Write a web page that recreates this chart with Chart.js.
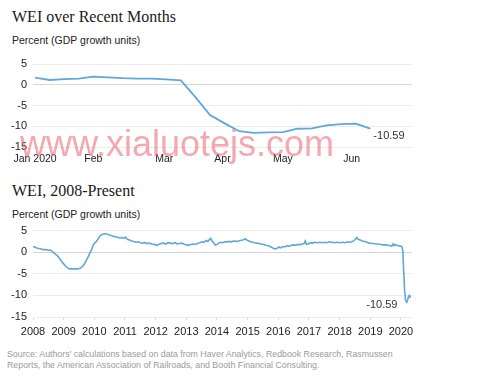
<!DOCTYPE html>
<html>
<head>
<meta charset="utf-8">
<script src="https://cdn.jsdelivr.net/npm/chart.js@4.4.1/dist/chart.umd.min.js"></script>
<style>
  html, body { margin: 0; padding: 0; background: #fff; }
  body { width: 480px; height: 380px; position: relative; overflow: hidden; font-family: "Liberation Sans", Arial, sans-serif; }
  .title { position: absolute; left: 12px; font-family: "Liberation Serif", Georgia, serif; font-size: 16px; line-height: 16px; color: #1a1a1a; white-space: nowrap; }
  .sub { position: absolute; left: 12px; font-size: 10.5px; line-height: 10.5px; color: #222; white-space: nowrap; }
  canvas { position: absolute; left: 0; }
  .source { position: absolute; left: 7px; top: 349px; font-size: 8.8px; line-height: 11px; color: #9a9a9a; white-space: nowrap; }
  .mark { position: absolute; left: 20px; top: 126px; font-size: 36px; line-height: 36px; color: rgba(236, 110, 122, 0.6); white-space: nowrap; pointer-events: none; z-index: 5; }
</style>
</head>
<body>
<div class="title" style="top:9px">WEI over Recent Months</div>
<div class="sub" style="top:35px">Percent (GDP growth units)</div>
<canvas id="recentChart" width="480" height="125" style="top:50px"></canvas>

<div class="title" style="top:183px">WEI, 2008-Present</div>
<div class="sub" style="top:209px">Percent (GDP growth units)</div>
<canvas id="longChart" width="480" height="130" style="top:218px"></canvas>

<div class="source">Source: Authors' calculations based on data from Haver Analytics, Redbook Research, Rasmussen<br>Reports, the American Association of Railroads, and Booth Financial Consulting.</div>
<div class="mark">www.xialuotejs.com</div>

<script>
// Recent months: weekly readings, x = day of 2020 (0 = Jan 1)
const recentDays = [3, 10, 17, 24, 31, 38, 45, 52, 59, 66, 73, 80, 87, 94, 101, 108, 115, 122, 129, 136, 143, 150, 157, 164];
const recentValues = [1.7, 1.15, 1.35, 1.5, 1.95, 1.8, 1.6, 1.5, 1.5, 1.3, 1.05, -3.0, -7.3, -9.3, -11.2, -11.6, -11.5, -11.4, -10.6, -10.5, -9.8, -9.5, -9.35, -10.59];
const monthTickDays = [3, 31, 65, 93, 122, 155];
const monthLabels = ['Jan 2020', 'Feb', 'Mar', 'Apr', 'May', 'Jun'];

// 2008 to present, x = decimal year
const longYears = [
  2008.00, 2008.05, 2008.10, 2008.15, 2008.24, 2008.32, 2008.41, 2008.50, 2008.57, 2008.62,
  2008.68, 2008.74, 2008.79, 2008.85, 2008.90, 2008.95, 2009.00, 2009.06, 2009.11, 2009.16,
  2009.20, 2009.26, 2009.33, 2009.40, 2009.45, 2009.51, 2009.56, 2009.60, 2009.66, 2009.71,
  2009.76, 2009.82, 2009.86, 2009.90, 2009.94, 2009.98, 2010.03, 2010.09, 2010.14, 2010.20,
  2010.25, 2010.31, 2010.37, 2010.44, 2010.50, 2010.58, 2010.66, 2010.74, 2010.82, 2010.90,
  2010.96, 2011.02, 2011.07, 2011.15, 2011.22, 2011.28, 2011.36, 2011.44, 2011.50, 2011.58,
  2011.66, 2011.72, 2011.80, 2011.88, 2011.96, 2012.05, 2012.10, 2012.16, 2012.26, 2012.34,
  2012.40, 2012.48, 2012.56, 2012.64, 2012.70, 2012.78, 2012.86, 2012.94, 2013.02, 2013.07,
  2013.14, 2013.22, 2013.29, 2013.36, 2013.44, 2013.51, 2013.58, 2013.64, 2013.70, 2013.75,
  2013.80, 2013.84, 2013.89, 2013.95, 2014.00, 2014.06, 2014.11, 2014.18, 2014.26, 2014.33,
  2014.40, 2014.48, 2014.54, 2014.62, 2014.70, 2014.76, 2014.84, 2014.92, 2015.00, 2015.08,
  2015.16, 2015.24, 2015.30, 2015.38, 2015.45, 2015.52, 2015.60, 2015.68, 2015.76, 2015.84,
  2015.90, 2015.96, 2016.02, 2016.08, 2016.14, 2016.20, 2016.28, 2016.36, 2016.44, 2016.50,
  2016.58, 2016.64, 2016.71, 2016.78, 2016.84, 2016.88, 2016.92, 2016.98, 2017.05, 2017.12,
  2017.20, 2017.28, 2017.36, 2017.44, 2017.52, 2017.58, 2017.66, 2017.74, 2017.82, 2017.90,
  2018.02, 2018.10, 2018.18, 2018.26, 2018.34, 2018.40, 2018.46, 2018.51, 2018.56, 2018.60,
  2018.67, 2018.74, 2018.82, 2018.89, 2018.96, 2019.04, 2019.10, 2019.18, 2019.26, 2019.34,
  2019.43, 2019.50, 2019.58, 2019.66, 2019.70, 2019.74, 2019.78, 2019.81, 2019.86, 2019.92,
  2019.97, 2020.03, 2020.06, 2020.09, 2020.12, 2020.15, 2020.19, 2020.22, 2020.25, 2020.28,
  2020.31
];
const longValues = [
  1.2, 1.3, 1.0, 0.9, 0.8, 0.6, 0.6, 0.45, 0.5, 0.2,
  -0.15, -0.5, -0.8, -1.3, -1.8, -2.3, -2.7, -3.2, -3.5, -3.75,
  -3.9, -3.8, -3.9, -3.8, -3.9, -3.8, -3.6, -3.4, -2.9, -2.3,
  -1.6, -0.8, -0.1, 0.4, 1.2, 1.9, 2.2, 2.7, 3.3, 3.85,
  4.1, 4.2, 4.3, 4.1, 4.0, 3.8, 3.6, 3.5, 3.3, 3.4,
  3.2, 3.5, 3.0, 2.8, 2.6, 2.5, 2.3, 2.4, 2.2, 2.1,
  2.2, 2.0, 2.1, 1.9, 1.8, 1.6, 1.8, 2.0, 2.1, 1.9,
  2.2, 2.1, 2.0, 2.2, 1.9, 2.0, 2.1, 1.8, 1.7, 1.6,
  1.8, 1.9, 1.8, 2.0, 2.2, 2.4, 2.3, 2.7, 2.5, 2.9,
  3.2, 2.6, 2.2, 1.6, 1.8, 2.1, 2.3, 2.2, 2.4, 2.4,
  2.5, 2.4, 2.6, 2.5, 2.6, 2.7, 2.8, 3.1, 2.7, 2.5,
  2.3, 2.2, 2.1, 2.0, 1.9, 1.8, 1.6, 1.5, 1.2, 0.9,
  0.75, 0.9, 1.2, 1.0, 1.3, 1.2, 1.5, 1.4, 1.6, 1.7,
  1.6, 1.8, 1.75, 1.9, 2.0, 2.6, 1.8, 1.9, 2.2, 2.1,
  2.3, 2.2, 2.3, 2.2, 2.3, 2.2, 2.4, 2.3, 2.2, 2.3,
  2.2, 2.3, 2.2, 2.4, 2.3, 2.4, 2.6, 3.0, 3.4, 3.0,
  2.8, 2.6, 2.5, 2.3, 2.1, 2.0, 2.0, 1.9, 1.9, 1.8,
  1.7, 1.7, 1.6, 1.5, 1.4, 1.9, 1.5, 1.8, 1.6, 1.5,
  1.4, 1.3, 0.4, -4.5, -8.9, -11.2, -11.6, -11.0, -10.2, -10.0,
  -10.59
];
const yearTicks = [2008, 2009, 2010, 2011, 2012, 2013, 2014, 2015, 2016, 2017, 2018, 2019, 2020];

const lineColor = '#5fa8da';
const tickFont = { family: '"Liberation Sans", Arial, sans-serif', size: 11 };

// writes the last value next to the end of the line
const endLabel = {
  id: 'endLabel',
  afterDatasetsDraw(chart, args, opts) {
    const meta = chart.getDatasetMeta(0);
    const last = meta.data[meta.data.length - 1];
    const values = chart.data.datasets[0].data;
    const v = values[values.length - 1].y;
    const ctx = chart.ctx;
    ctx.save();
    ctx.font = '11px "Liberation Sans", Arial, sans-serif';
    ctx.fillStyle = '#333';
    ctx.textAlign = opts.align;
    ctx.textBaseline = 'middle';
    ctx.fillText(v.toFixed(2), last.x + opts.dx, last.y + opts.dy);
    ctx.restore();
  }
};

function yAxis() {
  return {
    min: -15,
    max: 5,
    afterFit: axis => { axis.width = 33; },
    border: { display: false },
    grid: {
      drawTicks: false,
      color: ctx => (ctx.tick && ctx.tick.value === 0) ? '#d6d6d6' : '#ececec'
    },
    ticks: { stepSize: 5, padding: 6, color: '#222', font: tickFont }
  };
}

new Chart(document.getElementById('recentChart'), {
  type: 'line',
  data: {
    datasets: [{
      data: recentDays.map((d, i) => ({ x: d, y: recentValues[i] })),
      borderColor: lineColor,
      borderWidth: 1.8,
      pointRadius: 0,
      tension: 0,
      fill: false
    }]
  },
  options: {
    responsive: false,
    animation: false,
    layout: { padding: { top: 14, right: 68, bottom: 0, left: 0 } },
    scales: {
      x: {
        type: 'linear',
        min: 2,
        max: 184,
        afterFit: axis => { axis.height = 28; },
        afterBuildTicks: axis => { axis.ticks = monthTickDays.map(v => ({ value: v })); },
        border: { display: false },
        grid: { display: false, drawTicks: false },
        ticks: {
          autoSkip: false,
          maxRotation: 0,
          padding: 6,
          color: '#222',
          font: { family: tickFont.family, size: 10.5 },
          callback: (v, i) => monthLabels[i]
        }
      },
      y: yAxis()
    },
    plugins: {
      legend: { display: false },
      tooltip: { enabled: false },
      endLabel: { dx: 3, dy: 7, align: 'left' }
    }
  },
  plugins: [endLabel]
});

new Chart(document.getElementById('longChart'), {
  type: 'line',
  data: {
    datasets: [{
      data: longYears.map((yr, i) => ({ x: yr, y: longValues[i] })),
      borderColor: lineColor,
      borderWidth: 1.6,
      pointRadius: 0,
      tension: 0,
      fill: false
    }]
  },
  options: {
    responsive: false,
    animation: false,
    layout: { padding: { top: 12, right: 68, bottom: 0, left: 0 } },
    scales: {
      x: {
        type: 'linear',
        min: 2008,
        max: 2020.36,
        afterFit: axis => { axis.height = 31; },
        afterBuildTicks: axis => { axis.ticks = yearTicks.map(v => ({ value: v })); },
        border: { display: false },
        grid: { drawOnChartArea: false, drawTicks: true, tickLength: 3, color: '#dcdcdc' },
        ticks: {
          autoSkip: false,
          maxRotation: 0,
          padding: 5,
          color: '#222',
          font: tickFont,
          callback: v => String(v)
        }
      },
      y: yAxis()
    },
    plugins: {
      legend: { display: false },
      tooltip: { enabled: false },
      endLabel: { dx: -13, dy: 7, align: 'right' }
    }
  },
  plugins: [endLabel]
});
</script>
</body>
</html>
